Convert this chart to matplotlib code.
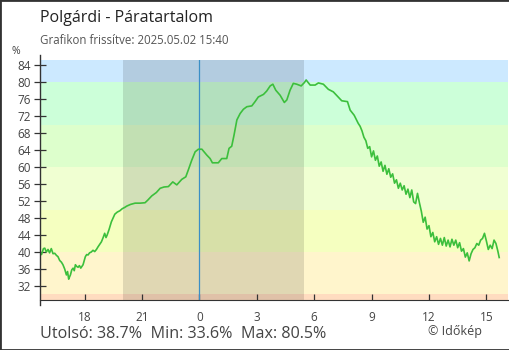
import matplotlib.pyplot as plt
import numpy as np
from matplotlib.patches import Rectangle

plt.rcParams['font.family'] = ['Open Sans', 'DejaVu Sans']

title = "Polgárdi - Páratartalom"
subtitle = "Grafikon frissítve: 2025.05.02 15:40"
stats = "Utolsó: 38.7%  Min: 33.6%  Max: 80.5%"
credit = "© Időkép"

# hours relative to midnight (negative = previous day)
hours = [
    -8.33, -8.25, -8.15, -8.08, -8.00, -7.91, -7.83, -7.74, -7.65, -7.56,
    -7.47, -7.39, -7.30, -7.21, -7.13, -7.04, -6.95, -6.89, -6.83, -6.78,
    -6.74, -6.67, -6.60, -6.54, -6.48, -6.41, -6.34, -6.27, -6.20, -6.14,
    -6.08, -6.02, -5.96, -5.89, -5.82, -5.74, -5.65, -5.56, -5.47, -5.38,
    -5.30, -5.21, -5.12, -5.03, -4.95, -4.88, -4.82, -4.72, -4.60, -4.51,
    -4.42, -4.29, -4.16, -4.03, -3.90, -3.80, -3.60, -3.36, -3.10, -2.84,
    -2.70, -2.49, -2.25, -2.05, -1.85, -1.62, -1.39, -1.18, -0.92, -0.71,
    -0.58, -0.40, -0.22, -0.05, 0.13, 0.39, 0.56, 0.68, 0.99, 1.17,
    1.43, 1.55, 1.69, 1.81, 1.96, 2.13, 2.30, 2.48, 2.74, 2.91,
    3.08, 3.35, 3.52, 3.70, 3.84, 3.99, 4.22, 4.44, 4.57, 4.74,
    4.91, 5.09, 5.32, 5.49, 5.58, 5.79, 6.05, 6.22, 6.48, 6.74,
    7.00, 7.27, 7.44, 7.74, 7.88, 8.09, 8.30, 8.40, 8.50, 8.60,
    8.70, 8.80, 8.90, 9.00, 9.10, 9.20, 9.30, 9.40, 9.50, 9.60,
    9.70, 9.80, 9.90, 10.00, 10.10, 10.20, 10.30, 10.40, 10.50, 10.60,
    10.70, 10.80, 10.90, 11.00, 11.10, 11.20, 11.30, 11.40, 11.50, 11.60,
    11.70, 11.80, 11.90, 12.00, 12.10, 12.20, 12.30, 12.40, 12.50, 12.60,
    12.70, 12.80, 12.90, 13.00, 13.10, 13.20, 13.30, 13.40, 13.50, 13.60,
    13.70, 13.80, 13.90, 14.00, 14.10, 14.20, 14.30, 14.40, 14.50, 14.60,
    14.70, 14.80, 14.90, 15.00, 15.10, 15.20, 15.30, 15.40, 15.50, 15.60,
    15.67,
]
humidity = [
    40.0, 39.4, 40.8, 40.9, 40.0, 40.6, 39.8, 40.8, 39.6, 39.7,
    39.2, 38.9, 38.0, 37.6, 37.0, 36.0, 34.6, 35.4, 33.6, 34.2,
    34.6, 35.8, 36.2, 35.6, 37.0, 36.6, 36.4, 36.8, 36.2, 36.6,
    37.0, 38.0, 38.9, 39.4, 39.3, 39.8, 40.0, 40.4, 40.1, 40.6,
    41.2, 41.8, 42.4, 43.4, 44.4, 43.4, 44.0, 45.3, 47.1, 48.0,
    48.9, 49.4, 49.7, 50.2, 50.5, 50.8, 51.2, 51.5, 51.5, 51.6,
    52.2, 53.2, 54.0, 55.0, 55.3, 55.4, 56.5, 55.8, 57.1, 57.7,
    59.3, 61.6, 63.6, 64.2, 64.2, 62.8, 62.0, 61.0, 61.0, 62.0,
    62.0, 64.4, 64.9, 67.5, 71.1, 72.6, 73.6, 74.2, 74.4, 75.4,
    76.5, 77.1, 77.9, 79.1, 79.5, 78.1, 76.9, 75.2, 75.8, 78.1,
    79.7, 79.5, 79.1, 79.9, 80.5, 79.3, 79.3, 79.8, 79.5, 78.3,
    77.7, 76.4, 75.6, 75.4, 73.4, 72.2, 70.3, 69.6, 68.5, 67.0,
    66.2, 64.4, 64.8, 62.4, 63.8, 61.6, 62.6, 60.2, 61.2, 59.0,
    60.4, 58.3, 59.6, 57.6, 58.4, 56.2, 57.0, 55.0, 56.2, 54.6,
    55.6, 53.6, 54.8, 52.8, 54.6, 51.8, 51.4, 53.8, 51.6, 49.6,
    47.0, 48.2, 45.4, 46.2, 43.6, 44.6, 42.4, 43.6, 41.8, 43.2,
    41.6, 43.4, 41.4, 42.8, 41.2, 43.0, 41.6, 42.8, 41.0, 42.2,
    40.2, 40.8, 38.8, 39.8, 37.9, 39.6, 40.6, 41.0, 42.0, 41.6,
    42.8, 43.2, 44.4, 42.6, 40.6, 41.6, 40.8, 42.8, 42.0, 40.2,
    38.7,
]

band_edges = [0, 30, 40, 50, 60, 70, 80, 100]
band_colors = ['#ffdcc0', '#fff5cc', '#f5ffc0', '#f0ffd2', '#ddffcc', '#ccffd9', '#cce9ff']
night = (-4.0, 5.47)

x_ticks = [-6, -3, 0, 3, 6, 9, 12, 15]
x_labels = ['18', '21', '0', '3', '6', '9', '12', '15']
y_ticks = list(range(32, 85, 4))

fig = plt.figure(figsize=(5.1, 3.5), dpi=100)
ax = fig.add_axes([40 / 510, 50 / 350, 468 / 510, 240 / 350])

x0, x1 = -8.33, 16.13
ax.set_xlim(x0, x1)
ax.set_ylim(28.7, 85.2)

for lo, hi, c in zip(band_edges[:-1], band_edges[1:], band_colors):
    ax.axhspan(lo, hi, color=c, lw=0, zorder=0)
ax.axvspan(night[0], night[1], color='black', alpha=0.12, lw=0, zorder=1)
ax.axvline(0, color='#3b8fc6', lw=0.9, zorder=2)

ax.plot(hours, humidity, color='#3cbf3c', lw=1.2, zorder=3)

for s in ['top', 'right']:
    ax.spines[s].set_visible(False)
ax.spines['left'].set_visible(False)
ax.spines['bottom'].set_color('#333333')
ax.plot([0, 0], [-0.02, 1.02], transform=ax.transAxes, color='#333333',
        lw=1, clip_on=False, zorder=5)

ax.set_yticks(y_ticks)
ax.set_yticklabels([str(v) for v in y_ticks])
ax.set_xticks(x_ticks)
ax.set_xticklabels(x_labels)
ax.tick_params(axis='y', direction='inout', length=9, width=0.9, color='#333333',
               labelsize=8.5, labelcolor='#444444', pad=2)
ax.tick_params(axis='x', direction='in', length=4.5, width=0.9, color='#333333',
               labelsize=8.5, labelcolor='#444444', pad=8)

fig.text(40 / 510, 1 - 18 / 350, title, fontsize=11.5, color='#222222', va='center')
fig.text(40 / 510, 1 - 40 / 350, subtitle, fontsize=8.3, color='#555555', va='center')
fig.text(16 / 510, 1 - 51 / 350, '%', fontsize=7.5, color='#444444', va='center', ha='center')
fig.text(40 / 510, 1 - 334 / 350, stats, fontsize=11.6, color='#444444', va='center')
fig.text(482 / 510, 1 - 332 / 350, credit, fontsize=9, color='#444444', va='center', ha='right')

fig.patches.append(Rectangle((0, 0), 1, 1, transform=fig.transFigure, fill=False,
                             edgecolor='#333333', lw=2, zorder=10))

fig.savefig('out.png', dpi=100)
